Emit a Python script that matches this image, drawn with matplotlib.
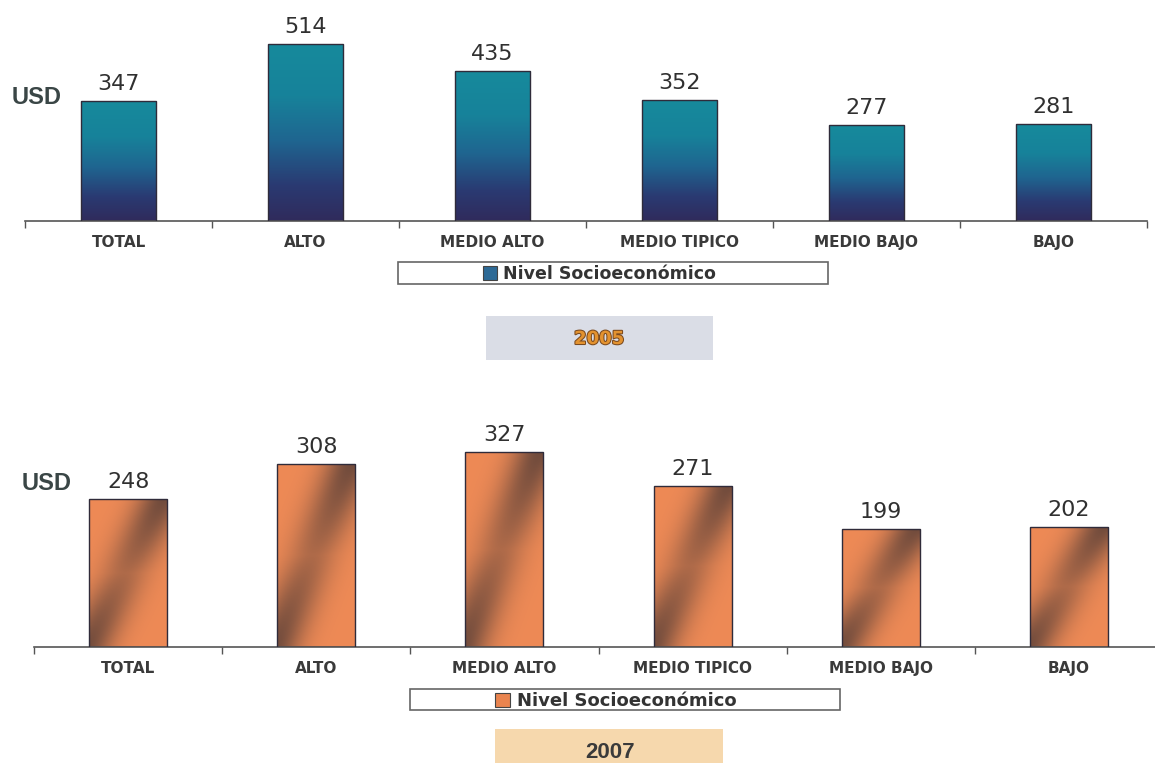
# %%
import numpy as np
import matplotlib
matplotlib.use("Agg")
import matplotlib.pyplot as plt
from matplotlib.patches import Rectangle
from matplotlib.colors import LinearSegmentedColormap, to_rgb
import matplotlib.patheffects as pe

plt.rcParams["font.family"] = ["DejaVu Sans"]

# %% data
categories = ["TOTAL", "ALTO", "MEDIO ALTO", "MEDIO TIPICO", "MEDIO BAJO", "BAJO"]
usd_2005 = [347, 514, 435, 352, 277, 281]
usd_2007 = [248, 308, 327, 271, 199, 202]
legend_label = "Nivel Socioeconómico"
years = ["2005", "2007"]

W, H = 1155, 763
fig = plt.figure(figsize=(W / 100, H / 100), dpi=100)
fig.patch.set_facecolor("white")


def px_axes(left, right, base, top):
    return fig.add_axes([left / W, 1 - base / H, (right - left) / W, (base - top) / H])


def px_rect(x0, y0, x1, y1, **kw):
    r = Rectangle((x0 / W, 1 - y1 / H), (x1 - x0) / W, (y1 - y0) / H,
                  transform=fig.transFigure, **kw)
    fig.add_artist(r)
    return r


blue_cmap = LinearSegmentedColormap.from_list(
    "blues", [(0.0, "#302b5c"), (0.2, "#2a3a72"), (0.45, "#1f6590"),
              (0.7, "#17829a"), (1.0, "#168a9c")])


def orange_img(n=120):
    u, v = np.meshgrid(np.linspace(0, 1, n), np.linspace(0, 1, n))
    d = np.exp(-((u - v + 0.05) / 0.33) ** 2) * (0.5 + 0.5 * np.abs(2 * v - 1))
    base = np.array(to_rgb("#ee8a56"))
    dark = np.array(to_rgb("#5a4038"))
    a = 0.85 * d[..., None]
    return base * (1 - a) + dark * a


def draw_chart(ax, values, ymax, width, style):
    x = np.arange(len(categories))
    bars = ax.bar(x, values, width=width, color="none", edgecolor="#2f2b3a", linewidth=1.0, zorder=3)
    for b in bars:
        x0, y0 = b.get_x(), b.get_y()
        ext = [x0, x0 + b.get_width(), y0, y0 + b.get_height()]
        if style == "blue":
            grad = np.linspace(0, 1, 200).reshape(-1, 1)
            im = ax.imshow(grad, cmap=blue_cmap, extent=ext, origin="lower", aspect="auto", zorder=2)
        else:
            im = ax.imshow(orange_img(), extent=ext, origin="lower", aspect="auto", zorder=2)
        im.set_clip_path(b)
    for xi, v in zip(x, values):
        ax.annotate(f"{v}", (xi, v), xytext=(0, 5), textcoords="offset points",
                    ha="center", va="bottom", fontsize=16, color="#303030")
    ax.set_xlim(-0.5, len(categories) - 0.5)
    ax.set_ylim(0, ymax)
    for s in ["top", "right", "left"]:
        ax.spines[s].set_visible(False)
    ax.spines["bottom"].set_color("#555555")
    ax.spines["bottom"].set_linewidth(1.2)
    ax.set_yticks([])
    ax.set_xticks(x)
    ax.set_xticklabels(categories, fontsize=11, fontweight="bold", color="#3a3a3a")
    ax.set_xticks(np.arange(len(categories) + 1) - 0.5, minor=True)
    ax.tick_params(axis="x", which="major", length=0, pad=10)
    ax.tick_params(axis="x", which="minor", length=5, width=1, color="#555555", direction="out")
    ax.patch.set_alpha(0)


# %% 2005
ax1 = px_axes(25, 1147, 221, 21)
draw_chart(ax1, usd_2005, 200 / 0.345, 0.406, "blue")
fig.text(12 / W, 1 - 97 / H, "USD", fontsize=17, fontweight="bold", color="#3a4646",
         family="Liberation Sans", va="center", ha="left")

# legend 2005
px_rect(398, 262, 828, 284, facecolor="white", edgecolor="#666666", linewidth=1.2)
px_rect(483, 266, 497, 280, facecolor="#2d6a96", edgecolor="#444444", linewidth=0.8)
fig.text(503 / W, 1 - 274 / H, legend_label, fontsize=12.5, fontweight="bold",
         color="#333333", va="center", ha="left")

# year 2005
px_rect(486, 316, 713, 360, facecolor="#dadde6", edgecolor="none")
fig.text(599 / W, 1 - 339 / H, years[0], fontsize=13, fontweight="bold", color="#e3922f",
         va="center", ha="center",
         path_effects=[pe.withStroke(linewidth=1.5, foreground="#7a4a20")])

# %% 2007
ax2 = px_axes(34, 1163, 647, 427)
draw_chart(ax2, usd_2007, 220 / 0.595, 0.415, "orange")
fig.text(22 / W, 1 - 484 / H, "USD", fontsize=17, fontweight="bold", color="#3a4646",
         family="Liberation Sans", va="center", ha="left")

# legend 2007
px_rect(410, 689, 840, 710, facecolor="white", edgecolor="#666666", linewidth=1.2)
px_rect(495, 693, 510, 707, facecolor="#e9844f", edgecolor="#444444", linewidth=0.8)
fig.text(517 / W, 1 - 701 / H, legend_label, fontsize=13, fontweight="bold",
         color="#333333", va="center", ha="left")

# year 2007
px_rect(495, 729, 723, 770, facecolor="#f6d8ad", edgecolor="none")
fig.text(610 / W, 1 - 752 / H, years[1], fontsize=16, fontweight="bold", color="#3a3a3a",
         family="Liberation Sans", va="center", ha="center")

fig.savefig("out.png", dpi=100)
